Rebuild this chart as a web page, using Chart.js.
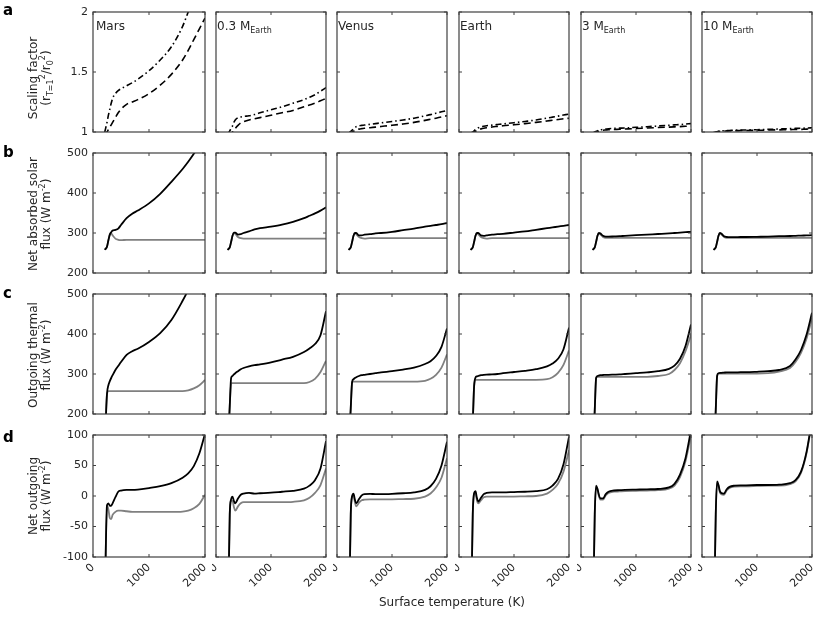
<!DOCTYPE html>
<html>
<head>
<meta charset="utf-8">
<script src="https://cdn.jsdelivr.net/npm/chart.js@4.4.1/dist/chart.umd.min.js"></script>
<style>
  body { margin: 0; background: #fff; width: 830px; height: 620px; position: relative; overflow: hidden;
         font-family: "DejaVu Sans", sans-serif; color: #262626; }
  canvas { position: absolute; }
  .txt { position: absolute; white-space: nowrap; line-height: 1; }
  .letter { font-weight: bold; font-size: 15px; color: #000; }
  .ytitle { font-size: 12px; line-height: 13px; text-align: center; transform: translate(-50%, -50%) rotate(-90deg); }
  .pname { font-size: 12px; }
  sub, sup { font-size: 8px; line-height: 0; }
</style>
</head>
<body>
<script>
// surface temperature grid (K)
var temps = [210, 250, 275, 300, 325, 350, 400, 450, 500, 600, 700, 800, 1000, 1200, 1400, 1600, 1700, 1800, 1900, 2000];

var planetNames = ['Mars', '0.3 M', 'Venus', 'Earth', '3 M', '10 M'];
var planetSubs = ['', 'Earth', '', '', 'Earth', 'Earth'];

var xTicks = [0, 1000, 2000];
var yTicksA = [1, 1.5, 2];
var yTicksB = [200, 300, 400, 500];
var yTicksC = [200, 300, 400, 500];
var yTicksD = [-100, -50, 0, 50, 100];

// a: scaling factor, dash-dot and dashed
var scaleDashDot = [
  [1.0, 1.08, 1.14, 1.19, 1.24, 1.28, 1.32, 1.345, 1.36, 1.385, 1.41, 1.44, 1.51, 1.6, 1.71, 1.88, 2.0, 2.12, 2.25, 2.4],
  [0.98, 1.01, 1.03, 1.05, 1.08, 1.1, 1.12, 1.125, 1.13, 1.135, 1.145, 1.16, 1.185, 1.21, 1.24, 1.27, 1.29, 1.31, 1.34, 1.37],
  [0.99, 1.005, 1.015, 1.025, 1.035, 1.045, 1.052, 1.055, 1.058, 1.064, 1.07, 1.076, 1.088, 1.1, 1.115, 1.135, 1.145, 1.157, 1.168, 1.18],
  [0.99, 1.0, 1.01, 1.02, 1.028, 1.035, 1.043, 1.048, 1.052, 1.057, 1.062, 1.067, 1.077, 1.088, 1.1, 1.116, 1.124, 1.132, 1.141, 1.15],
  [0.99, 1.0, 1.005, 1.01, 1.014, 1.018, 1.022, 1.025, 1.027, 1.03, 1.032, 1.034, 1.039, 1.044, 1.05, 1.056, 1.059, 1.062, 1.066, 1.07],
  [0.995, 1.0, 1.002, 1.005, 1.007, 1.009, 1.011, 1.012, 1.013, 1.015, 1.016, 1.017, 1.019, 1.022, 1.025, 1.028, 1.03, 1.031, 1.033, 1.035]
];
var scaleDashed = [
  [0.97, 1.0, 1.02, 1.04, 1.06, 1.08, 1.12, 1.16, 1.19, 1.23, 1.25, 1.27, 1.32, 1.39, 1.48, 1.6, 1.68, 1.77, 1.86, 1.95],
  [0.97, 0.98, 0.99, 1.0, 1.015, 1.03, 1.055, 1.075, 1.085, 1.1, 1.11, 1.12, 1.14, 1.16, 1.18, 1.21, 1.225, 1.24, 1.26, 1.28],
  [0.98, 0.99, 1.0, 1.006, 1.012, 1.017, 1.024, 1.028, 1.031, 1.036, 1.041, 1.046, 1.056, 1.067, 1.08, 1.097, 1.106, 1.115, 1.125, 1.136],
  [0.98, 0.99, 1.0, 1.006, 1.012, 1.018, 1.026, 1.032, 1.036, 1.042, 1.047, 1.052, 1.06, 1.07, 1.08, 1.092, 1.098, 1.104, 1.11, 1.115],
  [0.985, 0.995, 1.0, 1.004, 1.008, 1.011, 1.015, 1.017, 1.019, 1.021, 1.023, 1.025, 1.029, 1.033, 1.037, 1.041, 1.043, 1.045, 1.048, 1.05],
  [0.99, 0.997, 1.0, 1.003, 1.005, 1.006, 1.008, 1.009, 1.01, 1.011, 1.012, 1.013, 1.014, 1.016, 1.018, 1.02, 1.021, 1.022, 1.024, 1.025]
];

// b: net absorbed solar flux (W m-2)
var solarBlack = [
  [258, 266, 282, 296, 302, 306, 308, 311, 320, 337, 348, 356, 374, 398, 428, 460, 478, 498, 520, 545],
  [258, 264, 278, 293, 301, 301, 296, 297, 300, 304, 309, 312, 316, 321, 328, 337, 343, 349, 356, 364],
  [258, 264, 278, 293, 300, 300, 294, 294, 296, 297, 299, 300, 303, 307, 311, 316, 318, 320, 322, 325],
  [258, 264, 278, 293, 300, 300, 294, 293, 294, 296, 297, 298, 301, 304, 308, 312, 314, 316, 318, 320],
  [258, 264, 278, 293, 300, 299, 293, 291, 291, 291.5, 292, 293, 294.5, 296, 297.5, 299, 300, 301, 302, 303],
  [258, 264, 278, 293, 300, 299, 292, 290, 289.5, 289.5, 290, 290, 290.5, 291, 292, 292.5, 293, 293.5, 294, 294.5]
];
var solarGray = [
  [258, 266, 282, 296, 299, 294, 286, 283, 282, 283, 283, 283, 283, 283, 283, 283, 283, 283, 283, 283],
  [258, 264, 278, 293, 300, 298, 290, 287, 286, 286, 286, 286, 286, 286, 286, 286, 286, 286, 286, 286],
  [258, 264, 278, 293, 299, 297, 290, 287, 286, 287, 287, 287, 287, 287, 287, 287, 287, 287, 287, 287],
  [258, 264, 278, 293, 299, 297, 290, 287, 286, 287, 287, 287, 287, 287, 287, 287, 287, 287, 287, 287],
  [258, 264, 278, 293, 299, 297, 290, 288, 288, 288, 288, 288, 288, 288, 288, 288, 288, 288, 288, 288],
  [258, 264, 278, 293, 299, 297, 290, 288, 288, 288, 288, 288, 288, 288, 288, 288, 288, 288, 288, 288]
];

// c: outgoing thermal flux (W m-2)
var thermalBlack = [
  [120, 250, 272, 282, 290, 297, 310, 320, 330, 348, 357, 363, 380, 402, 435, 483, 510, 540, 575, 610],
  [100, 220, 290, 295, 299, 302, 307, 312, 315, 319, 322, 324, 329, 336, 343, 355, 364, 375, 397, 457],
  [100, 215, 280, 287, 290, 292, 295, 297, 298, 300, 302, 304, 307, 311, 316, 325, 332, 345, 368, 414],
  [80, 180, 270, 291, 294, 295, 297, 298, 298.5, 299, 300, 302, 305, 308, 312, 319, 326, 338, 362, 416],
  [80, 210, 290, 295, 296, 297, 297.5, 298, 298, 298.5, 299, 300, 302, 304, 307, 313, 321, 338, 370, 424],
  [80, 210, 295, 302, 303, 303, 303.5, 304, 304, 304, 304.5, 304.5, 305.5, 307, 310, 320, 336, 360, 398, 453]
];
var thermalGray = [
  [120, 250, 257, 257, 257, 257, 257, 257, 257, 257, 257, 257, 257, 257, 257, 257, 259, 264, 272, 285],
  [100, 220, 277, 277, 277, 277, 277, 277, 277, 277, 277, 277, 277, 277, 277, 277, 280, 288, 305, 333],
  [100, 215, 280, 281, 281, 281, 281, 281, 281, 281, 281, 281, 281, 281, 281, 283, 288, 298, 316, 349],
  [80, 180, 270, 285.5, 285.5, 285.5, 285.5, 285.5, 285.5, 285.5, 285.5, 285.5, 285.5, 285.5, 285.5, 287, 292, 303, 323, 359],
  [80, 210, 290, 293, 293, 293, 293, 293, 293, 293, 293, 293, 293, 293, 295, 300, 310, 327, 357, 398],
  [80, 210, 295, 301, 301, 301, 301, 301, 301, 301, 301, 301, 301, 302, 306, 315, 330, 353, 388, 440]
];

// d: net outgoing flux (W m-2)
var netBlack = [
  [-180, -15, -12, -16, -16, -12, -2, 7, 9, 10, 10, 10.5, 13, 16, 21, 30, 37, 49, 70, 102],
  [-250, -30, -5, -1, -8, -12, -4, 2, 4, 5, 4, 4.5, 5.5, 7, 8.5, 12, 17, 26, 45, 90],
  [-250, -30, 0, 4, -6, -12, -5, 1, 3, 3.5, 3, 3, 3.5, 4.5, 6, 10, 16, 28, 50, 89],
  [-250, -30, 5, 8, -3, -9, -3, 3, 5, 6, 6, 6, 6.5, 7, 8, 11, 17, 28, 52, 97],
  [-250, -30, 17, 12, 2, -4, -4, 3, 7, 9, 9.5, 10, 10.5, 11, 11.5, 14, 20, 35, 62, 108],
  [-250, -30, 24, 18, 8, 5, 4, 11, 15, 17, 17.5, 17.5, 18, 18, 18.5, 21, 26, 40, 72, 125]
];
var netGray = [
  [-180, -15, -22, -36, -38, -31, -26, -24, -24, -25, -26, -26, -26, -26, -26, -25.5, -24, -20, -13, 2],
  [-250, -30, -8, -8, -18, -24, -17, -12, -10, -10, -10, -10, -10, -10, -9.5, -7, -3, 5, 18, 45],
  [-250, -30, -2, 2, -10, -17, -11, -7, -6, -5.5, -5.5, -5.5, -5.5, -5, -4.5, -1, 4, 14, 30, 62],
  [-250, -30, 3, 5, -7, -12, -7, -2, -1, -1, -1, -1, -1, -0.5, 0, 4, 10, 20, 40, 75],
  [-250, -30, 15, 10, 0, -6, -6, 1, 5, 7, 7.5, 8, 8.5, 9, 9.5, 12, 17, 31, 57, 100],
  [-250, -30, 22, 16, 6, 3, 2, 9, 13, 15.5, 16, 16, 16.5, 17, 17, 19.5, 24, 38, 70, 122]
];

var colLeft = [93, 214, 335, 457, 579, 700];
var rowTop = [12, 153, 294, 435];
var panelW = 112, panelH = 122;

var rows = [
  { ticks: yTicksA, min: 1, max: 2, series: [scaleDashDot, scaleDashed] },
  { ticks: yTicksB, min: 200, max: 500, series: [solarBlack, solarGray] },
  { ticks: yTicksC, min: 200, max: 500, series: [thermalBlack, thermalGray] },
  { ticks: yTicksD, min: -100, max: 100, series: [netBlack, netGray] }
];

var tickFont = { family: 'DejaVu Sans', size: 11 };
var ink = '#262626';

// box around each panel with small inward ticks on all sides
var boxPlugin = {
  id: 'box',
  afterDraw: function (chart) {
    var ctx = chart.ctx, a = chart.chartArea, sx = chart.scales.x, sy = chart.scales.y;
    ctx.save();
    ctx.strokeStyle = '#404040';
    ctx.lineWidth = 1.2;
    ctx.strokeRect(a.left, a.top, a.right - a.left, a.bottom - a.top);
    ctx.lineWidth = 1;
    ctx.beginPath();
    chart.options.xTickVals.forEach(function (v) {
      var px = sx.getPixelForValue(v);
      ctx.moveTo(px, a.bottom); ctx.lineTo(px, a.bottom - 3);
      ctx.moveTo(px, a.top); ctx.lineTo(px, a.top + 3);
    });
    chart.options.yTickVals.forEach(function (v) {
      var py = sy.getPixelForValue(v);
      ctx.moveTo(a.left, py); ctx.lineTo(a.left + 3, py);
      ctx.moveTo(a.right, py); ctx.lineTo(a.right - 3, py);
    });
    ctx.stroke();
    ctx.restore();
  }
};

function pts(vals) {
  return temps.map(function (t, i) { return { x: t, y: vals[i] }; });
}

rows.forEach(function (row, r) {
  colLeft.forEach(function (left, c) {
    var padL = c === 0 ? 46 : 2, padB = r === 3 ? 40 : 2, padT = 8, padR = 2;
    var cv = document.createElement('canvas');
    var w = panelW + padL + padR, h = panelH + padT + padB;
    cv.width = w; cv.height = h;
    cv.style.left = (left - padL) + 'px';
    cv.style.top = (rowTop[r] - padT) + 'px';
    cv.style.width = w + 'px'; cv.style.height = h + 'px';
    document.body.appendChild(cv);

    var ds;
    if (r === 0) {
      ds = [
        { data: pts(row.series[0][c]), borderColor: '#000', borderWidth: 1.6, borderDash: [6, 3, 1.5, 3] },
        { data: pts(row.series[1][c]), borderColor: '#000', borderWidth: 1.6, borderDash: [7, 4] }
      ];
    } else {
      ds = [
        { data: pts(row.series[0][c]), borderColor: '#000', borderWidth: 1.8 },
        { data: pts(row.series[1][c]), borderColor: '#808080', borderWidth: 1.8 }
      ];
    }

    new Chart(cv, {
      type: 'line',
      data: { datasets: ds },
      plugins: [boxPlugin],
      options: {
        responsive: false,
        animation: false,
        devicePixelRatio: 1,
        xTickVals: xTicks,
        yTickVals: row.ticks,
        layout: { padding: { top: padT, right: padR, left: c === 0 ? 0 : padL, bottom: r === 3 ? 0 : padB } },
        plugins: { legend: { display: false }, tooltip: { enabled: false } },
        elements: { point: { radius: 0 }, line: { cubicInterpolationMode: 'monotone', fill: false } },
        scales: {
          x: {
            type: 'linear', min: 0, max: 2000, display: r === 3,
            afterFit: function (s) { s.height = padB; s.paddingLeft = 0; s.paddingRight = 0; },
            afterBuildTicks: function (s) { s.ticks = xTicks.map(function (v) { return { value: v }; }); },
            grid: { display: false, drawTicks: false }, border: { display: false },
            ticks: { font: tickFont, color: ink, minRotation: 45, maxRotation: 45, padding: 4,
                     callback: function (v) { return String(v); } }
          },
          y: {
            type: 'linear', min: row.min, max: row.max, display: c === 0,
            afterFit: function (s) { s.width = padL; s.paddingTop = 0; s.paddingBottom = 0; },
            afterBuildTicks: function (s) { s.ticks = row.ticks.map(function (v) { return { value: v }; }); },
            grid: { display: false, drawTicks: false }, border: { display: false },
            ticks: { font: tickFont, color: ink, padding: 5,
                     callback: function (v) { return String(v); } }
          }
        }
      }
    });

    if (r === 0) {
      var p = document.createElement('div');
      p.className = 'txt pname';
      p.style.left = (left + 3) + 'px';
      p.style.top = '20px';
      p.innerHTML = planetNames[c] + (planetSubs[c] ? '<sub>' + planetSubs[c] + '</sub>' : '');
      document.body.appendChild(p);
    }
  });
});

// row letters and axis titles
var letters = ['a', 'b', 'c', 'd'];
var letterTop = [3, 145, 286, 430];
var titleShift = [5, 0, 0, 0];
var yTitles = [
  'Scaling factor<br>(r<sub>T=1</sub><sup>2</sup>/r<sub>0</sub><sup>2</sup>)',
  'Net absorbed solar<br>flux (W m<sup>-2</sup>)',
  'Outgoing thermal<br>flux (W m<sup>-2</sup>)',
  'Net outgoing<br>flux (W m<sup>-2</sup>)'
];
letters.forEach(function (l, r) {
  var d = document.createElement('div');
  d.className = 'txt letter';
  d.style.left = '3px';
  d.style.top = letterTop[r] + 'px';
  d.textContent = l;
  document.body.appendChild(d);

  var t = document.createElement('div');
  t.className = 'txt ytitle';
  t.style.left = '40px';
  t.style.top = (rowTop[r] + panelH / 2 + titleShift[r]) + 'px';
  t.innerHTML = yTitles[r];
  document.body.appendChild(t);
});

var xt = document.createElement('div');
xt.className = 'txt';
xt.style.fontSize = '12px';
xt.style.left = '452px';
xt.style.top = '596px';
xt.style.transform = 'translateX(-50%)';
xt.textContent = 'Surface temperature (K)';
document.body.appendChild(xt);
</script>
</body>
</html>
